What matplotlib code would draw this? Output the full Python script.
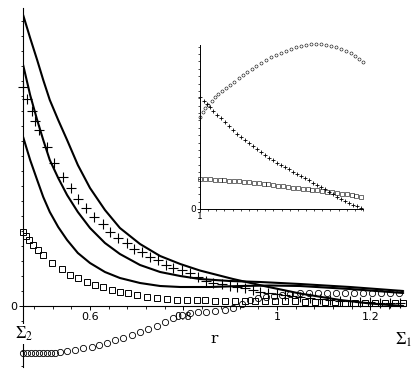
import numpy as np
import matplotlib
matplotlib.use("Agg")
from matplotlib import pyplot as plt
from matplotlib.ticker import FixedLocator, MultipleLocator, NullFormatter

# ---- main panel: solid curves (r, value) ----
top_r = [0.457, 0.472, 0.487, 0.500, 0.514, 0.532, 0.551, 0.574, 0.600, 0.632, 0.664,
         0.707, 0.750, 0.793, 0.835, 0.906, 0.977, 1.049, 1.135, 1.199, 1.270]
top_v = [2.91, 2.68, 2.46, 2.26, 2.06, 1.86, 1.66, 1.41, 1.18, 0.96, 0.78,
         0.62, 0.50, 0.42, 0.355, 0.27, 0.195, 0.125, 0.06, 0.025, 0.0]

mid_r = [0.457, 0.472, 0.487, 0.500, 0.514, 0.532, 0.551, 0.574, 0.600, 0.632, 0.664,
         0.707, 0.750, 0.793, 0.835, 0.899, 0.964, 1.049, 1.156, 1.270]
mid_v = [2.41, 2.11, 1.86, 1.66, 1.46, 1.28, 1.11, 0.94, 0.78, 0.63, 0.52,
         0.41, 0.34, 0.30, 0.27, 0.25, 0.24, 0.22, 0.19, 0.15]

low_r = [0.457, 0.472, 0.487, 0.500, 0.514, 0.532, 0.551, 0.574, 0.600, 0.632, 0.664,
         0.707, 0.750, 0.793, 0.857, 0.921, 0.985, 1.049, 1.156, 1.270]
low_v = [1.69, 1.46, 1.26, 1.09, 0.94, 0.79, 0.66, 0.53, 0.43, 0.34, 0.28,
         0.23, 0.20, 0.19, 0.19, 0.20, 0.205, 0.20, 0.17, 0.13]

# ---- main panel: point series ----
plus_r = [0.457, 0.465, 0.476, 0.482, 0.491, 0.508, 0.523, 0.542, 0.559, 0.574, 0.591,
          0.609, 0.628, 0.643, 0.660, 0.679, 0.694, 0.711, 0.728, 0.745, 0.763, 0.778,
          0.797, 0.814, 0.831, 0.848, 0.863, 0.882, 0.899, 0.914, 0.932, 0.949, 0.964,
          0.981, 1.000, 1.017, 1.032, 1.049, 1.071, 1.092, 1.113, 1.135, 1.156, 1.178,
          1.199, 1.220, 1.242, 1.263]
plus_v = [2.19, 2.07, 1.95, 1.85, 1.76, 1.59, 1.43, 1.29, 1.18, 1.07, 0.98,
          0.89, 0.82, 0.74, 0.68, 0.63, 0.57, 0.54, 0.49, 0.46, 0.41, 0.38,
          0.36, 0.33, 0.29, 0.25, 0.23, 0.22, 0.20, 0.19, 0.18, 0.16, 0.14,
          0.13, 0.12, 0.11, 0.10, 0.09, 0.08, 0.07, 0.06, 0.055, 0.05, 0.045,
          0.04, 0.035, 0.03, 0.03]

sq_r = [0.457, 0.463, 0.470, 0.478, 0.489, 0.500, 0.519, 0.540, 0.557, 0.574, 0.594,
        0.611, 0.628, 0.647, 0.664, 0.681, 0.701, 0.722, 0.743, 0.765, 0.786, 0.807,
        0.829, 0.846, 0.867, 0.889, 0.910, 0.932, 0.953, 0.974, 0.996, 1.017, 1.038,
        1.060, 1.081, 1.103, 1.124, 1.145, 1.167, 1.188, 1.210, 1.231, 1.252, 1.270]
sq_v = [0.74, 0.70, 0.66, 0.61, 0.56, 0.51, 0.43, 0.37, 0.31, 0.28, 0.24,
        0.21, 0.19, 0.16, 0.14, 0.13, 0.11, 0.09, 0.08, 0.07, 0.06, 0.06,
        0.06, 0.06, 0.05, 0.05, 0.05, 0.05, 0.05, 0.05, 0.05, 0.05, 0.05,
        0.045, 0.04, 0.04, 0.04, 0.035, 0.035, 0.03, 0.03, 0.03, 0.03, 0.03]

circ_r = [0.457, 0.465, 0.474, 0.482, 0.491, 0.500, 0.508, 0.517, 0.525, 0.536, 0.551,
          0.568, 0.585, 0.604, 0.619, 0.636, 0.653, 0.671, 0.690, 0.707, 0.724, 0.743,
          0.760, 0.778, 0.797, 0.814, 0.831, 0.848, 0.867, 0.889, 0.906, 0.925, 0.942,
          0.959, 0.977, 0.994, 1.011, 1.028, 1.049, 1.068, 1.088, 1.107, 1.126, 1.145,
          1.165, 1.184, 1.203, 1.223, 1.242, 1.261]
circ_v = [-0.47, -0.47, -0.47, -0.47, -0.47, -0.47, -0.47, -0.465, -0.465, -0.46, -0.45,
          -0.44, -0.42, -0.41, -0.39, -0.37, -0.34, -0.32, -0.29, -0.26, -0.23, -0.20,
          -0.16, -0.12, -0.09, -0.07, -0.06, -0.06, -0.05, -0.04, -0.02, 0.02, 0.06,
          0.08, 0.09, 0.10, 0.11, 0.12, 0.13, 0.13, 0.135, 0.135, 0.135, 0.135,
          0.13, 0.13, 0.13, 0.13, 0.13, 0.13]

# ---- inset series ----
in_circ_x = [1.000, 1.018, 1.031, 1.049, 1.074, 1.092, 1.110, 1.135, 1.160, 1.184, 1.209,
             1.239, 1.264, 1.288, 1.319, 1.344, 1.374, 1.405, 1.436, 1.466, 1.497, 1.528,
             1.558, 1.589, 1.620, 1.650, 1.681, 1.712, 1.742, 1.773, 1.804, 1.834, 1.865,
             1.896, 1.926, 1.951, 1.975, 2.000]
in_circ_y = [0.561, 0.591, 0.616, 0.634, 0.659, 0.683, 0.701, 0.720, 0.738, 0.756, 0.774,
             0.799, 0.817, 0.835, 0.854, 0.872, 0.890, 0.909, 0.927, 0.939, 0.951, 0.963,
             0.976, 0.988, 0.994, 1.000, 1.006, 1.006, 1.006, 1.000, 0.994, 0.988, 0.976,
             0.963, 0.951, 0.933, 0.915, 0.896]

in_plus_x = [1.000, 1.025, 1.043, 1.061, 1.080, 1.104, 1.129, 1.153, 1.178, 1.202, 1.227,
             1.252, 1.276, 1.301, 1.325, 1.350, 1.374, 1.399, 1.423, 1.448, 1.472, 1.497,
             1.521, 1.546, 1.571, 1.595, 1.620, 1.644, 1.669, 1.693, 1.718, 1.742, 1.767,
             1.791, 1.816, 1.840, 1.865, 1.890, 1.914, 1.939, 1.963, 1.988]
in_plus_y = [0.683, 0.659, 0.640, 0.622, 0.598, 0.573, 0.555, 0.530, 0.506, 0.482, 0.457,
             0.439, 0.421, 0.402, 0.384, 0.366, 0.348, 0.329, 0.311, 0.299, 0.280, 0.268,
             0.256, 0.244, 0.226, 0.213, 0.201, 0.189, 0.177, 0.159, 0.146, 0.134, 0.122,
             0.104, 0.091, 0.073, 0.061, 0.049, 0.037, 0.024, 0.018, 0.006]

in_sq_x = [1.00, 1.03, 1.06, 1.09, 1.12, 1.15, 1.18, 1.21, 1.24, 1.27, 1.30, 1.33,
           1.36, 1.39, 1.42, 1.45, 1.48, 1.51, 1.54, 1.57, 1.60, 1.63, 1.66, 1.69,
           1.72, 1.75, 1.78, 1.81, 1.84, 1.87, 1.90, 1.93, 1.96, 1.99]
in_sq_y = [0.183, 0.181, 0.180, 0.178, 0.177, 0.175, 0.173, 0.171, 0.169, 0.166, 0.162, 0.159,
           0.156, 0.153, 0.150, 0.146, 0.143, 0.139, 0.135, 0.131, 0.128, 0.124, 0.121, 0.117,
           0.113, 0.109, 0.105, 0.101, 0.098, 0.094, 0.090, 0.085, 0.080, 0.075]

x_ticks = [0.6, 0.8, 1.0, 1.2]
x_tick_labels = ["0.6", "0.8", "1", "1.2"]

W, H = 415, 374
fig = plt.figure(figsize=(W / 100, H / 100), dpi=100)
plt.rcParams["mathtext.fontset"] = "stix"

ax = fig.add_axes([23 / W, (H - 367) / H, (405 - 23) / W, (367 - 8) / H])
ax.set_xlim(0.4567, 1.2738)
ax.set_ylim(-0.61, 2.98)

for r, v in [(top_r, top_v), (mid_r, mid_v), (low_r, low_v)]:
    ax.plot(r, v, color="black", lw=1.5, solid_capstyle="round")

ax.plot(plus_r, plus_v, ls="none", marker="+", ms=7, mew=0.8, color="black", clip_on=False)
ax.plot(sq_r, sq_v, ls="none", marker="s", ms=4.6, mew=0.7, mfc="none", mec="black", clip_on=False)
ax.plot(circ_r, circ_v, ls="none", marker="o", ms=4.5, mew=0.6, mfc="none", mec="black", clip_on=False)

ax.spines["top"].set_visible(False)
ax.spines["right"].set_visible(False)
ax.spines["bottom"].set_position(("data", 0))
ax.spines["left"].set_linewidth(0.8)
ax.spines["bottom"].set_linewidth(0.8)

ax.xaxis.set_major_locator(FixedLocator(x_ticks))
ax.set_xticklabels(x_tick_labels)
ax.xaxis.set_minor_locator(MultipleLocator(0.04))
ax.xaxis.set_minor_formatter(NullFormatter())
ax.yaxis.set_major_locator(FixedLocator([0]))
ax.set_yticklabels(["0"])
ax.yaxis.set_minor_locator(MultipleLocator(0.15))
ax.tick_params(which="major", direction="out", length=3, width=0.7, labelsize=8, pad=1)
ax.tick_params(which="minor", direction="out", length=1.8, width=0.6)

fig.text(24 / W, 1 - 334 / H, r"$\Sigma_2$", ha="center", va="center", fontsize=12,
         bbox=dict(facecolor="white", edgecolor="none", pad=0.5))
fig.text(404 / W, 1 - 340 / H, r"$\Sigma_1$", ha="center", va="center", fontsize=12)
fig.text(214 / W, 1 - 339 / H, "r", ha="center", va="center", fontsize=11, family="DejaVu Serif")

# ---- inset ----
ins = fig.add_axes([200 / W, (H - 209) / H, 163 / W, 164 / H])
ins.patch.set_alpha(0)
ins.set_xlim(1, 2)
ins.set_ylim(0, 1)
ins.plot(in_circ_x, in_circ_y, ls="none", marker="o", ms=2.2, mew=0.4, mfc="none", mec="black", clip_on=False)
ins.plot(in_plus_x, in_plus_y, ls="none", marker="+", ms=3, mew=0.6, color="black", clip_on=False)
ins.plot(in_sq_x, in_sq_y, ls="none", marker="s", ms=2.2, mew=0.4, mfc="none", mec="black", clip_on=False)
ins.spines["top"].set_visible(False)
ins.spines["right"].set_visible(False)
ins.spines["left"].set_linewidth(0.7)
ins.spines["bottom"].set_linewidth(0.7)
ins.xaxis.set_major_locator(FixedLocator([1.0]))
ins.set_xticklabels(["1"])
ins.xaxis.set_minor_locator(MultipleLocator(0.05))
ins.xaxis.set_minor_formatter(NullFormatter())
ins.yaxis.set_major_locator(FixedLocator([0.0]))
ins.set_yticklabels(["0"])
ins.yaxis.set_minor_locator(MultipleLocator(0.045))
ins.yaxis.set_minor_formatter(NullFormatter())
ins.tick_params(which="major", direction="out", length=2, width=0.6, labelsize=6.5, pad=0.5)
ins.tick_params(which="minor", direction="out", length=1.2, width=0.5)

fig.savefig("out.png", dpi=100)
